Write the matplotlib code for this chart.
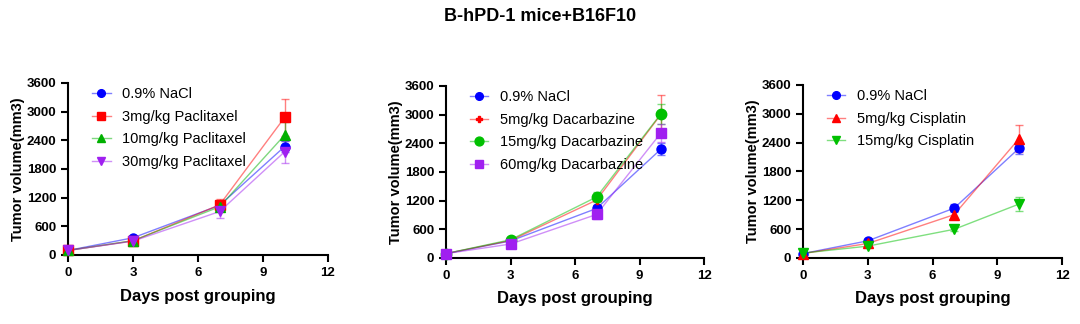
import matplotlib
matplotlib.use("Agg")
import matplotlib.pyplot as plt
from matplotlib.lines import Line2D

plt.rcParams["font.family"] = ["Liberation Sans", "DejaVu Sans"]

days = [0, 3, 7, 10]

# panel 1: paclitaxel
pac_labels = ["0.9% NaCl", "3mg/kg Paclitaxel", "10mg/kg Paclitaxel", "30mg/kg Paclitaxel"]
pac_mean = [[95, 360, 1040, 2270],
            [95, 295, 1050, 2880],
            [95, 300, 1010, 2510],
            [95, 290, 910, 2160]]
pac_err = [[20, 30, 80, 110],
           [20, 30, 120, 390],
           [20, 30, 100, 280],
           [20, 30, 130, 230]]

# panel 2: dacarbazine
dac_labels = ["0.9% NaCl", "5mg/kg Dacarbazine", "15mg/kg Dacarbazine", "60mg/kg Dacarbazine"]
dac_mean = [[90, 355, 1035, 2280],
            [90, 365, 1210, 3010],
            [90, 380, 1275, 3020],
            [90, 290, 910, 2620]]
dac_err = [[20, 30, 80, 120],
           [20, 30, 100, 400],
           [20, 30, 100, 210],
           [20, 30, 100, 190]]

# panel 3: cisplatin
cis_labels = ["0.9% NaCl", "5mg/kg Cisplatin", "15mg/kg Cisplatin"]
cis_mean = [[90, 355, 1035, 2280],
            [90, 300, 900, 2480],
            [100, 245, 595, 1120]]
cis_err = [[20, 30, 80, 110],
           [20, 30, 70, 280],
           [70, 25, 40, 150]]

panels = [
    (pac_labels, pac_mean, pac_err,
     [("#0000ff", "o", 6.5), ("#ff0000", "s", 6.5), ("#00b000", "^", 6.5), ("#a020f0", "v", 6.5)],
     [0.063, 0.213, 0.2407, 0.531]),
    (dac_labels, dac_mean, dac_err,
     [("#0000ff", "o", 6.5), ("#ff0000", "P", 5.5), ("#00c000", "o", 7.5), ("#a020f0", "s", 7)],
     [0.413, 0.204, 0.239, 0.531]),
    (cis_labels, cis_mean, cis_err,
     [("#0000ff", "o", 6.5), ("#ff0000", "^", 7.5), ("#00c000", "v", 7.5)],
     [0.7435, 0.204, 0.240, 0.534]),
]

fig = plt.figure(figsize=(10.8, 3.24), dpi=100)
fig.suptitle("B-hPD-1 mice+B16F10", fontsize=13, fontweight="bold", y=0.975)

for labels, means, errs, styles, rect in panels:
    ax = fig.add_axes(rect)
    handles = []
    for lab, m, e, (col, mk, ms) in zip(labels, means, errs, styles):
        ax.errorbar(days, m, yerr=e, fmt="none", ecolor=col, elinewidth=1,
                    capsize=3, capthick=1, alpha=0.5, clip_on=False, zorder=2)
        ax.plot(days, m, color=col, lw=1, alpha=0.5, clip_on=False, zorder=2)
        ax.plot(days, m, ls="none", marker=mk, ms=ms, color=col,
                mec=col, clip_on=False, zorder=3)
        handles.append((Line2D([], [], color=col, lw=1, alpha=0.5),
                        Line2D([], [], ls="none", marker=mk, ms=ms * 0.85,
                               color=col, mec=col)))
    ax.set_xlim(0, 12)
    ax.set_ylim(0, 3600)
    ax.set_xticks([0, 3, 6, 9, 12])
    ax.set_yticks([0, 600, 1200, 1800, 2400, 3000, 3600])
    for s in ("top", "right"):
        ax.spines[s].set_visible(False)
    for s in ("left", "bottom"):
        ax.spines[s].set_linewidth(1.5)
    ax.tick_params(width=1.5, length=5, labelsize=9.5)
    for t in ax.get_xticklabels() + ax.get_yticklabels():
        t.set_fontweight("bold")
    ax.set_xlabel("Days post grouping", fontsize=12, fontweight="bold", labelpad=7)
    ax.set_ylabel("Tumor volume(mm3)", fontsize=10.5, fontweight="bold", labelpad=1)
    ax.legend(handles, labels, loc="upper left", bbox_to_anchor=(0.043, 1.05),
              frameon=False, fontsize=10.5, handlelength=1.25, handletextpad=0.8,
              labelspacing=0.58)

fig.savefig("out.png", dpi=100)
